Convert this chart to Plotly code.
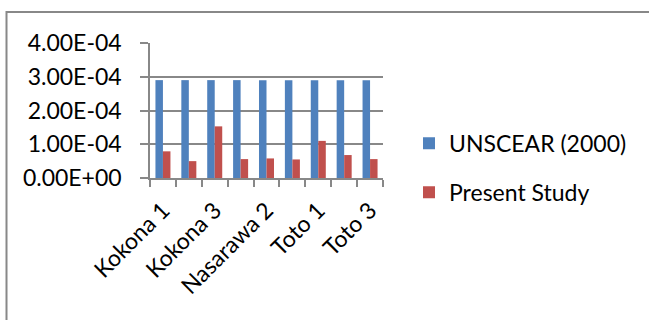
import plotly.graph_objects as go

# Sampling locations
categories = ["Kokona 1", "Kokona 2", "Kokona 3",
              "Nasarawa 1", "Nasarawa 2", "Nasarawa 3",
              "Toto 1", "Toto 2", "Toto 3"]
# Reference value (UNSCEAR 2000) and measured values
unscear = [2.9e-4] * 9
present = [0.79e-4, 0.50e-4, 1.53e-4, 0.56e-4, 0.58e-4, 0.55e-4, 1.10e-4, 0.68e-4, 0.56e-4]
y_ticks = [0.0, 1e-4, 2e-4, 3e-4, 4e-4]

W, H = 649, 320
L, R, T, B = 150, 383, 43, 178.3
FONT = "Lato"
FS = 23
GRID = "#888888"

idx = list(range(len(categories)))

fig = go.Figure()
fig.add_trace(go.Bar(x=idx, y=unscear, name="UNSCEAR (2000)",
                     marker=dict(color="#4F81BD", line=dict(width=0)),
                     legendgroup="a"))
fig.add_trace(go.Bar(x=idx, y=present, name="Present Study",
                     marker=dict(color="#C0504D", line=dict(width=0)),
                     legendgroup="b"))

pw, ph = R - L, B - T

def px_x(x):
    return (x - L) / pw

def px_y(y):
    return (B - y) / ph

fig.update_layout(
    width=W, height=H,
    margin=dict(l=L, r=W - R, t=T, b=H - B, pad=0),
    paper_bgcolor="white", plot_bgcolor="white",
    barmode="group", bargap=0.42, bargroupgap=0,
    font=dict(family=FONT, size=FS, color="#000000"),
    legend=dict(x=px_x(409), y=px_y(122), xanchor="left", yanchor="top",
                tracegroupgap=16, font=dict(size=FS, family=FONT),
                bgcolor="rgba(0,0,0,0)", itemwidth=30),
    xaxis=dict(
        range=[-0.5, len(categories) - 0.5],
        tickvals=idx[::2], ticktext=categories[::2],
        tickangle=-45, ticks="", showgrid=False,
        showline=True, linecolor=GRID, linewidth=1.5,
        zeroline=False, ticklabelstandoff=8,
        tickfont=dict(size=FS, family=FONT),
        minor=dict(tickvals=[i - 0.5 for i in range(len(categories) + 1)],
                   ticks="outside", ticklen=7, tickcolor=GRID, tickwidth=1.5,
                   showgrid=False),
    ),
    yaxis=dict(
        range=[0, 4e-4],
        tickvals=y_ticks, ticktext=[f"{v:.2E}" for v in y_ticks],
        ticks="outside", ticklen=8, tickcolor=GRID, tickwidth=1.5,
        showgrid=True, gridcolor=GRID, gridwidth=1.5,
        showline=True, linecolor=GRID, linewidth=1.5,
        zeroline=False, ticklabelstandoff=14,
        tickfont=dict(size=FS, family=FONT),
    ),
)

# Chart-area frame (only its top and left edges fall inside the view)
fig.add_shape(type="rect", xref="paper", yref="paper",
              x0=px_x(6.5), y0=px_y(330), x1=px_x(660), y1=px_y(12),
              line=dict(color=GRID, width=2), fillcolor="rgba(0,0,0,0)",
              layer="below")

fig.write_html("out.html")
